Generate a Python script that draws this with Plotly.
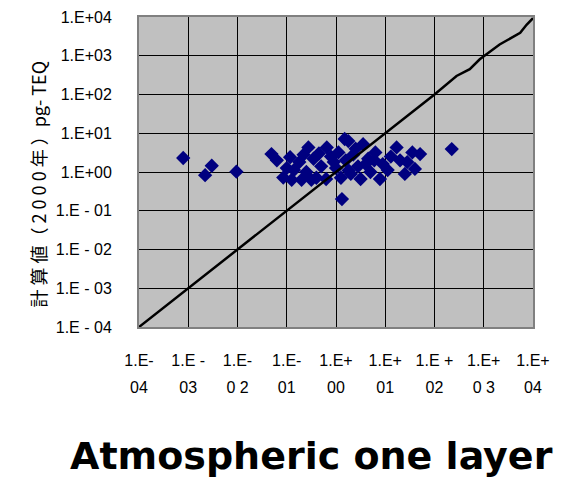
import plotly.graph_objects as go

# Observed (x) vs calculated (y) values, pg-TEQ
obs_x = [7.9e-4, 3.0e-3, 2.2e-3, 9.5e-3, 224, 1.32,
         0.049, 0.063, 0.085, 0.117, 0.10, 0.14, 0.18, 0.275, 0.25, 0.35,
         0.40, 0.50, 0.65, 0.63, 0.79, 1.0, 1.12, 1.26, 1.5, 1.78,
         1.58, 2.0, 2.24, 2.8, 3.55, 3.16, 4.5, 5.0, 6.3, 7.8,
         8.9, 11.2, 17, 20, 25, 28, 40, 51, 35.5,
         0.126, 0.2, 0.316, 0.9, 1.8, 4.0, 13, 0.22, 0.45, 2.5, 6.0]
calc_y = [2.3, 1.45, 0.83, 1.02, 3.9, 0.20,
          2.9, 2.0, 0.72, 2.4, 1.26, 1.12, 1.8, 4.3, 1.0, 2.2,
          0.71, 1.4, 4.3, 0.66, 2.5, 1.26, 3.2, 0.71, 7.1, 6.3,
          2.0, 0.89, 2.8, 1.4, 5.2, 0.66, 2.2, 1.0, 3.2, 0.66,
          1.6, 1.12, 4.3, 2.0, 0.89, 1.8, 1.2, 2.9, 3.2,
          0.63, 0.63, 0.63, 1.8, 1.1, 1.6, 2.5, 2.8, 3.0, 4.0, 2.0]

# 1:1 reference line
line_x = [1e-4, 100, 280, 520, 830, 2100, 5500, 7400, 10000]
line_y = [1e-4, 100, 300, 450, 810, 1950, 3900, 6300, 9300]

tick_vals = [1e-4, 1e-3, 1e-2, 1e-1, 1e0, 1e1, 1e2, 1e3, 1e4]
y_tick_text = ["1.E - 04", "1.E - 03", "1.E - 02", "1.E - 01", "1.E+00",
               "1.E+01", "1.E+02", "1.E+03", "1.E+04"]
x_tick_top = ["1.E-", "1.E -", "1.E-", "1.E-", "1.E+",
              "1.E+", "1.E +", "1.E+", "1.E+"]
x_tick_bottom = ["04", "03", "0 2", "01", "00", "01", "02", "0 3", "04"]

fig = go.Figure()
fig.add_trace(go.Scatter(x=line_x, y=line_y, mode="lines", xaxis="x2",
                         line=dict(color="black", width=2.5), showlegend=False))
fig.add_trace(go.Scatter(x=obs_x, y=calc_y, mode="markers",
                         marker=dict(symbol="diamond", size=11, color="#000080",
                                     line=dict(width=0)),
                         showlegend=False))

font_main = "Liberation Sans, Arial, sans-serif"
common = dict(type="log", range=[-4, 4], tickvals=tick_vals, zeroline=False, ticks="",
              ticklabeloverflow="allow")
# page body has an 8px default margin, so the figure is 8px smaller each way
fig.update_layout(
    width=559, height=469,
    margin=dict(l=131, r=34, t=9, b=150, autoexpand=False),
    paper_bgcolor="white", plot_bgcolor="#C0C0C0",
    font=dict(family=font_main, size=16, color="black"),
    xaxis=dict(**common, ticktext=x_tick_top,
               showgrid=True, gridcolor="black", gridwidth=1,
               showline=True, linecolor="#808080", linewidth=2, mirror=True,
               ticklabelstandoff=18, tickfont=dict(size=16)),
    xaxis2=dict(**common, ticktext=x_tick_bottom, overlaying="x", side="bottom",
                matches="x", showgrid=False, showline=False,
                ticklabelstandoff=49, tickfont=dict(size=16)),
    yaxis=dict(**common, ticktext=y_tick_text,
               showgrid=True, gridcolor="black", gridwidth=1,
               showline=True, linecolor="#808080", linewidth=2, mirror=True,
               ticklabelstandoff=22, tickfont=dict(size=16)),
    annotations=[
        dict(text="計 算 値（ 2 0 0 0 年 ）pg- TEQ", textangle=-90, showarrow=False,
             xref="paper", yref="paper", x=-0.257, y=0.462,
             xanchor="center", yanchor="middle",
             font=dict(family="Noto Sans CJK JP, sans-serif", size=18)),
        dict(text="<b>Atmospheric one layer</b>", showarrow=False,
             xref="paper", yref="paper", x=0.438, y=-0.415,
             xanchor="center", yanchor="middle",
             font=dict(family="DejaVu Sans, sans-serif", size=38)),
    ],
)

fig.write_html("out.html")
